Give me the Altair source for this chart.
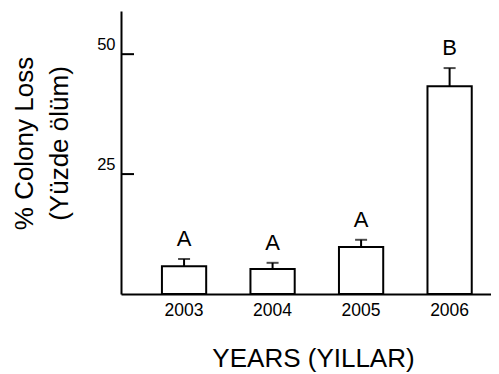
import altair as alt
import pandas as pd

years = ["2003", "2004", "2005", "2006"]
loss = [5.8, 5.2, 9.8, 43.3]
err_top = [7.3, 6.5, 11.3, 47.1]
letters = ["A", "A", "A", "B"]
y_ticks = [25, 50]

df = pd.DataFrame({"year": years, "loss": loss, "err": err_top, "letter": letters})
ticks_df = pd.DataFrame({"v": y_ticks})

FONT = "Liberation Sans"

xs = alt.Scale(domain=years, paddingInner=0.5, paddingOuter=0.34, align=0.68)
ys = alt.Scale(domain=[0, 59], nice=False, zero=True)

x_axis = alt.Axis(
    title="YEARS (YILLAR)", labelAngle=0, ticks=False, tickSize=0,
    domain=True, domainColor="black", domainWidth=2,
    labelPadding=7, labelFontSize=17.5, labelFont=FONT, labelColor="black",
    titleFontSize=26, titleFont=FONT, titleFontWeight="normal", titleColor="black",
    titleX=192, titleY=51, titleAlign="center", titleBaseline="top",
)
y_axis = alt.Axis(
    values=y_ticks, ticks=False, tickSize=0, grid=False,
    domain=True, domainColor="black", domainWidth=2,
    labelPadding=6, labelFontSize=16.5, labelFont=FONT, labelColor="black",
    labelBaseline="alphabetic", labelOffset=-5,
    title=["% Colony Loss", "(Yüzde ölüm)"],
    titleFontSize=26, titleFont=FONT, titleFontWeight="normal", titleColor="black",
    titleAngle=270, titleX=-110, titleY=132, titleAlign="center",
    titleBaseline="top", titleLineHeight=35,
)

X = alt.X("year:N", scale=xs, sort=years, axis=x_axis)


def Y(field):
    return alt.Y(f"{field}:Q", scale=ys, axis=y_axis)


base = alt.Chart(df)

bars = base.mark_bar(fill="white", stroke="black", strokeWidth=2).encode(
    x=X, y=Y("loss")
)
err = base.mark_rule(color="black", strokeWidth=2).encode(
    x=X, y=Y("loss"), y2="err:Q"
)
cap = base.mark_tick(color="black", size=12, thickness=2).encode(
    x=X, y=Y("err")
)
lab = base.mark_text(dy=-13, baseline="alphabetic", fontSize=22, font=FONT, color="black").encode(
    x=X, y=Y("err"), text="letter:N"
)
yt = alt.Chart(ticks_df).mark_rule(color="black", strokeWidth=2).encode(
    y=alt.Y("v:Q", scale=ys, axis=y_axis), x=alt.value(0), x2=alt.value(13)
)

chart = alt.layer(bars, err, cap, lab, yt).properties(
    width=370, height=283,
    autosize=alt.AutoSizeParams(type="none"),
    padding={"left": 113, "top": 3, "right": 0, "bottom": 80},
    background="white",
).configure_view(stroke=None).configure_axisX(
    labelFontSize=17.5, labelFont=FONT, labelColor="black", labelPadding=7
).configure_axisY(
    labelFontSize=16.5, labelFont=FONT, labelColor="black", labelPadding=6
)

chart.save("out.html", embed_options={"renderer": "svg", "actions": False})
